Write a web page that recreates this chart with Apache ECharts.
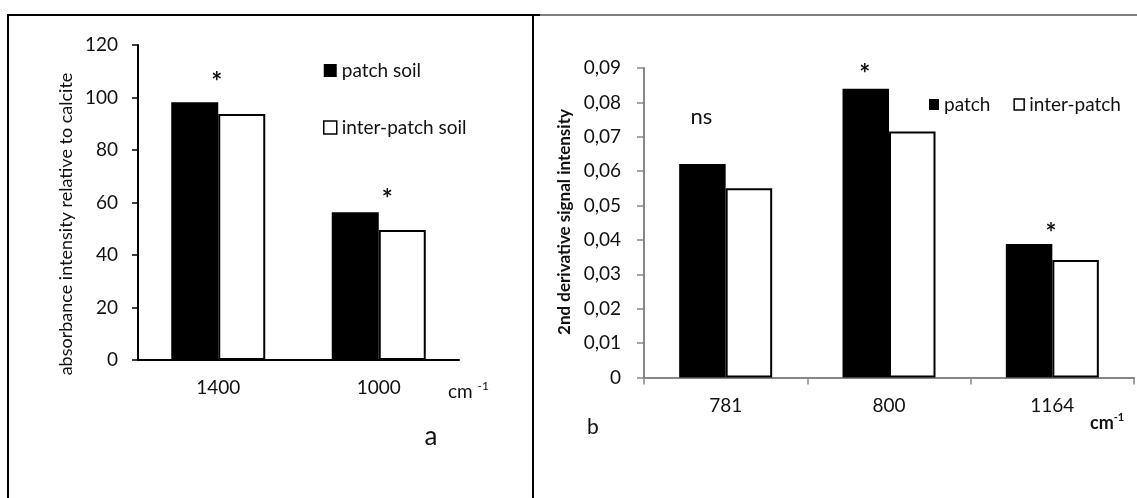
<!DOCTYPE html>
<html>
<head>
<meta charset="utf-8">
<script src="https://cdn.jsdelivr.net/npm/echarts@6/dist/echarts.min.js"></script>
<style>
html,body{margin:0;padding:0;background:#fff;}
#c{width:1137px;height:498px;}
</style>
</head>
<body>
<div id="c"></div>
<script>
// ---- data (panel a) ----
const leftCategories = ['1400', '1000'];
const leftPatch = [98.2, 56.3];
const leftInter = [93.7, 49.5];
const leftSig = ['*', '*'];
const leftSeriesNames = ['patch soil', 'inter-patch soil'];
// ---- data (panel b) ----
const rightCategories = ['781', '800', '1164'];
const rightPatch = [0.0621, 0.0840, 0.0388];
const rightInter = [0.0550, 0.0715, 0.0342];
const rightSig = ['ns', '*', '*'];
const rightSeriesNames = ['patch', 'inter-patch'];
// axis ranges
const leftYMax = 120, leftYStep = 20;
const rightYMax = 0.09, rightYStep = 0.01;

const FONT = 'Lato, "Open Sans", sans-serif';
const TXT = '#111';
const FS = 19;

const leftSigOffsets = [[22, -20], [32, -13]];
const rightSigOffsets = [[-1, -47], [-1, -14], [22, -10]];

function sigPoints(cats, vals, sig, offs) {
  return cats.map((c, i) => ({
    coord: [c, vals[i]],
    symbol: 'circle', symbolSize: 1,
    itemStyle: { color: 'rgba(0,0,0,0)' },
    label: {
      show: true, formatter: sig[i], position: 'inside', offset: offs[i],
      fontFamily: FONT, fontSize: sig[i] === '*' ? 26 : 22,
      fontWeight: sig[i] === '*' ? 'bold' : 'normal', color: TXT
    }
  }));
}

const chart = echarts.init(document.getElementById('c'), null, { renderer: 'canvas' });

const option = {
  animation: false,
  backgroundColor: '#fff',
  textStyle: { fontFamily: FONT },
  grid: [
    { left: 138, top: 45, width: 321, height: 315 },
    { left: 644, top: 68, width: 490, height: 309.5 }
  ],
  xAxis: [
    {
      gridIndex: 0, type: 'category', data: leftCategories,
      axisLine: { lineStyle: { color: '#000', width: 2 } },
      axisTick: { show: false },
      axisLabel: { margin: 18, fontSize: FS, color: TXT, fontFamily: FONT }
    },
    {
      gridIndex: 1, type: 'category', data: rightCategories,
      axisLine: { lineStyle: { color: '#868686', width: 2 } },
      axisTick: { show: true, length: 7, lineStyle: { color: '#868686', width: 1.5 } },
      axisLabel: { margin: 19, fontSize: FS, color: TXT, fontFamily: FONT }
    }
  ],
  yAxis: [
    {
      gridIndex: 0, type: 'value', min: 0, max: leftYMax, interval: leftYStep,
      axisLine: { show: true, lineStyle: { color: '#000', width: 2 } },
      axisTick: { show: true, length: 6, lineStyle: { color: '#000', width: 1.5 } },
      splitLine: { show: false },
      axisLabel: { margin: 20, fontSize: FS, color: TXT, fontFamily: FONT }
    },
    {
      gridIndex: 1, type: 'value', min: 0, max: rightYMax, interval: rightYStep,
      axisLine: { show: true, lineStyle: { color: '#868686', width: 2 } },
      axisTick: { show: true, length: 7, lineStyle: { color: '#868686', width: 1.5 } },
      splitLine: { show: false },
      axisLabel: {
        margin: 23, fontSize: FS, color: TXT, fontFamily: FONT,
        formatter: v => v === 0 ? '0' : v.toFixed(2).replace('.', ',')
      }
    }
  ],
  legend: [
    {
      orient: 'vertical', left: 323, top: 61, padding: 0, itemWidth: 13, itemHeight: 13, itemGap: 38,
      icon: 'rect',
      textStyle: { fontSize: FS, color: TXT, fontFamily: FONT, lineHeight: 19 },
      data: [
        { name: leftSeriesNames[0], itemStyle: { color: '#000', borderWidth: 0 } },
        { name: leftSeriesNames[1], itemStyle: { color: '#fff', borderColor: '#000', borderWidth: 1.5 } }
      ]
    },
    {
      orient: 'horizontal', left: 929, top: 95, padding: 0, width: 208, itemWidth: 10, itemHeight: 11, itemGap: 23,
      icon: 'rect',
      textStyle: { fontSize: FS, color: TXT, fontFamily: FONT, lineHeight: 19 },
      data: [
        { name: rightSeriesNames[0], itemStyle: { color: '#000', borderWidth: 0 } },
        { name: rightSeriesNames[1], itemStyle: { color: '#fff', borderColor: '#000', borderWidth: 1.5 } }
      ]
    }
  ],
  series: [
    {
      name: leftSeriesNames[0], type: 'bar', xAxisIndex: 0, yAxisIndex: 0,
      data: leftPatch, barWidth: 47, barGap: '0%',
      itemStyle: { color: '#000' },
      markPoint: { data: sigPoints(leftCategories, leftPatch, leftSig, leftSigOffsets) }
    },
    {
      name: leftSeriesNames[1], type: 'bar', xAxisIndex: 0, yAxisIndex: 0,
      data: leftInter, barWidth: 47, barGap: '0%',
      itemStyle: { color: '#fff', borderColor: '#000', borderWidth: 2 }
    },
    {
      name: rightSeriesNames[0], type: 'bar', xAxisIndex: 1, yAxisIndex: 1,
      data: rightPatch, barWidth: 46.5, barGap: '0%',
      itemStyle: { color: '#000' },
      markPoint: { data: sigPoints(rightCategories, rightPatch, rightSig, rightSigOffsets) }
    },
    {
      name: rightSeriesNames[1], type: 'bar', xAxisIndex: 1, yAxisIndex: 1,
      data: rightInter, barWidth: 46.5, barGap: '0%',
      itemStyle: { color: '#fff', borderColor: '#000', borderWidth: 2 }
    }
  ],
  graphic: [
    // panel frames
    { type: 'line', shape: { x1: 8, y1: 15, x2: 540, y2: 15 }, style: { stroke: '#000', lineWidth: 2 } },
    { type: 'line', shape: { x1: 540, y1: 15, x2: 1137, y2: 15 }, style: { stroke: '#000', lineWidth: 1.2 } },
    { type: 'line', shape: { x1: 8, y1: 14, x2: 8, y2: 498 }, style: { stroke: '#000', lineWidth: 2 } },
    { type: 'line', shape: { x1: 533, y1: 14, x2: 533, y2: 498 }, style: { stroke: '#000', lineWidth: 2 } },
    // axis titles
    {
      type: 'text', x: 66, y: 224, rotation: Math.PI / 2,
      style: { text: 'absorbance intensity relative to calcite', font: '18px ' + FONT, fill: TXT, align: 'center', verticalAlign: 'middle' }
    },
    {
      type: 'text', x: 565, y: 222, rotation: Math.PI / 2,
      style: { text: '2nd derivative signal intensity', font: 'bold 17px ' + FONT, fill: TXT, align: 'center', verticalAlign: 'middle' }
    },
    // unit labels
    {
      type: 'text', x: 448, y: 392,
      style: {
        text: '{a|cm }{b|-1}', align: 'left', verticalAlign: 'middle', fill: TXT,
        rich: {
          a: { fontSize: 19, fontFamily: FONT, fill: TXT },
          b: { fontSize: 12, fontFamily: FONT, fill: TXT, padding: [0, 0, 11, 0] }
        }
      }
    },
    {
      type: 'text', x: 1090, y: 423,
      style: {
        text: '{a|cm}{b|-1}', align: 'left', verticalAlign: 'middle', fill: TXT,
        rich: {
          a: { fontSize: 18, fontWeight: 'bold', fontFamily: FONT, fill: TXT },
          b: { fontSize: 11, fontWeight: 'bold', fontFamily: FONT, fill: TXT, padding: [0, 0, 11, 0] }
        }
      }
    },
    // panel letters
    { type: 'text', x: 431, y: 437, style: { text: 'a', font: '26px ' + FONT, fill: TXT, align: 'center', verticalAlign: 'middle' } },
    { type: 'text', x: 593, y: 427, style: { text: 'b', font: '21px ' + FONT, fill: TXT, align: 'center', verticalAlign: 'middle' } }
  ]
};
chart.setOption(option);
</script>
</body>
</html>
